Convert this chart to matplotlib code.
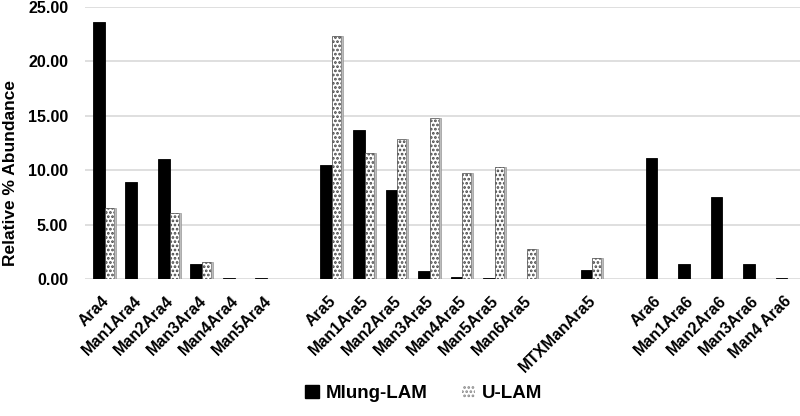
import matplotlib
matplotlib.use("Agg")
import matplotlib.pyplot as plt
import matplotlib.patches as mpatches
import numpy as np

plt.rcParams['font.family'] = ['Liberation Sans', 'DejaVu Sans']
plt.rcParams['font.weight'] = 'bold'
plt.rcParams['hatch.linewidth'] = 1.3

categories = ["Ara4", "Man1Ara4", "Man2Ara4", "Man3Ara4", "Man4Ara4", "Man5Ara4", "",
              "Ara5", "Man1Ara5", "Man2Ara5", "Man3Ara5", "Man4Ara5", "Man5Ara5", "Man6Ara5", "",
              "MTXManAra5", "",
              "Ara6", "Man1Ara6", "Man2Ara6", "Man3Ara6", "Man4 Ara6"]
mlung = [23.6, 8.9, 11.0, 1.4, 0.15, 0.15, 0,
         10.45, 13.7, 8.2, 0.75, 0.2, 0.1, 0.0, 0,
         0.85, 0,
         11.1, 1.4, 7.5, 1.35, 0.15]
ulam = [6.55, 0.05, 6.1, 1.55, 0.0, 0.0, 0,
        22.3, 11.55, 12.85, 14.8, 9.75, 10.25, 2.8, 0,
        1.95, 0,
        0.0, 0.0, 0.0, 0.0, 0.0]
yticks = [0, 5, 10, 15, 20, 25]

fig = plt.figure(figsize=(8, 4.16), dpi=100)
ax = fig.add_axes([0.106, 0.329, 0.894, 0.655])

x = np.arange(len(categories))
w = 0.36
ax.bar(x - 0.07, mlung, width=w, color='black', edgecolor='black', linewidth=0.6, zorder=3)
ax.bar(x + 0.25, ulam, width=0.28, color='white', edgecolor='#444444', hatch='....',
       linewidth=0.5, zorder=3)
# shaded side of the dotted bars
ax.bar(x + 0.42, ulam, width=0.07, color='#bdbdbd', edgecolor='#888888', linewidth=0.4, zorder=3)

ax.set_xlim(-0.5, len(categories) - 0.5)
ax.set_ylim(0, 25)
ax.set_yticks(yticks)
ax.set_yticklabels([f"{v:.2f}" for v in yticks], fontsize=11.5, fontweight='bold')
ax.set_xticks(x)
ax.set_xticklabels(categories, rotation=45, ha='right', rotation_mode='anchor',
                   fontsize=11.5, fontweight='bold')
ax.tick_params(axis='y', length=0, pad=12)
ax.tick_params(axis='x', length=0, pad=10)
ax.yaxis.grid(True, color='#d9d9d9', linewidth=1.2, zorder=0)
ax.set_axisbelow(True)
for s in ax.spines.values():
    s.set_visible(False)
ax.set_ylabel("Relative % Abundance", fontsize=12.5, fontweight='bold')
ax.yaxis.set_label_coords(-0.094, 0.39)

h1 = mpatches.Patch(facecolor='black', edgecolor='black')
h2 = mpatches.Patch(facecolor='white', edgecolor='#888888', hatch='....', linewidth=0)
fig.legend([h1, h2], ["Mlung-LAM", "U-LAM"], loc='center', bbox_to_anchor=(0.53, 0.055),
           ncol=2, frameon=False, prop={'size': 13.5, 'weight': 'bold'},
           handlelength=0.7, handleheight=0.7, columnspacing=1.8, handletextpad=0.4)

fig.savefig("out.png", dpi=100)
